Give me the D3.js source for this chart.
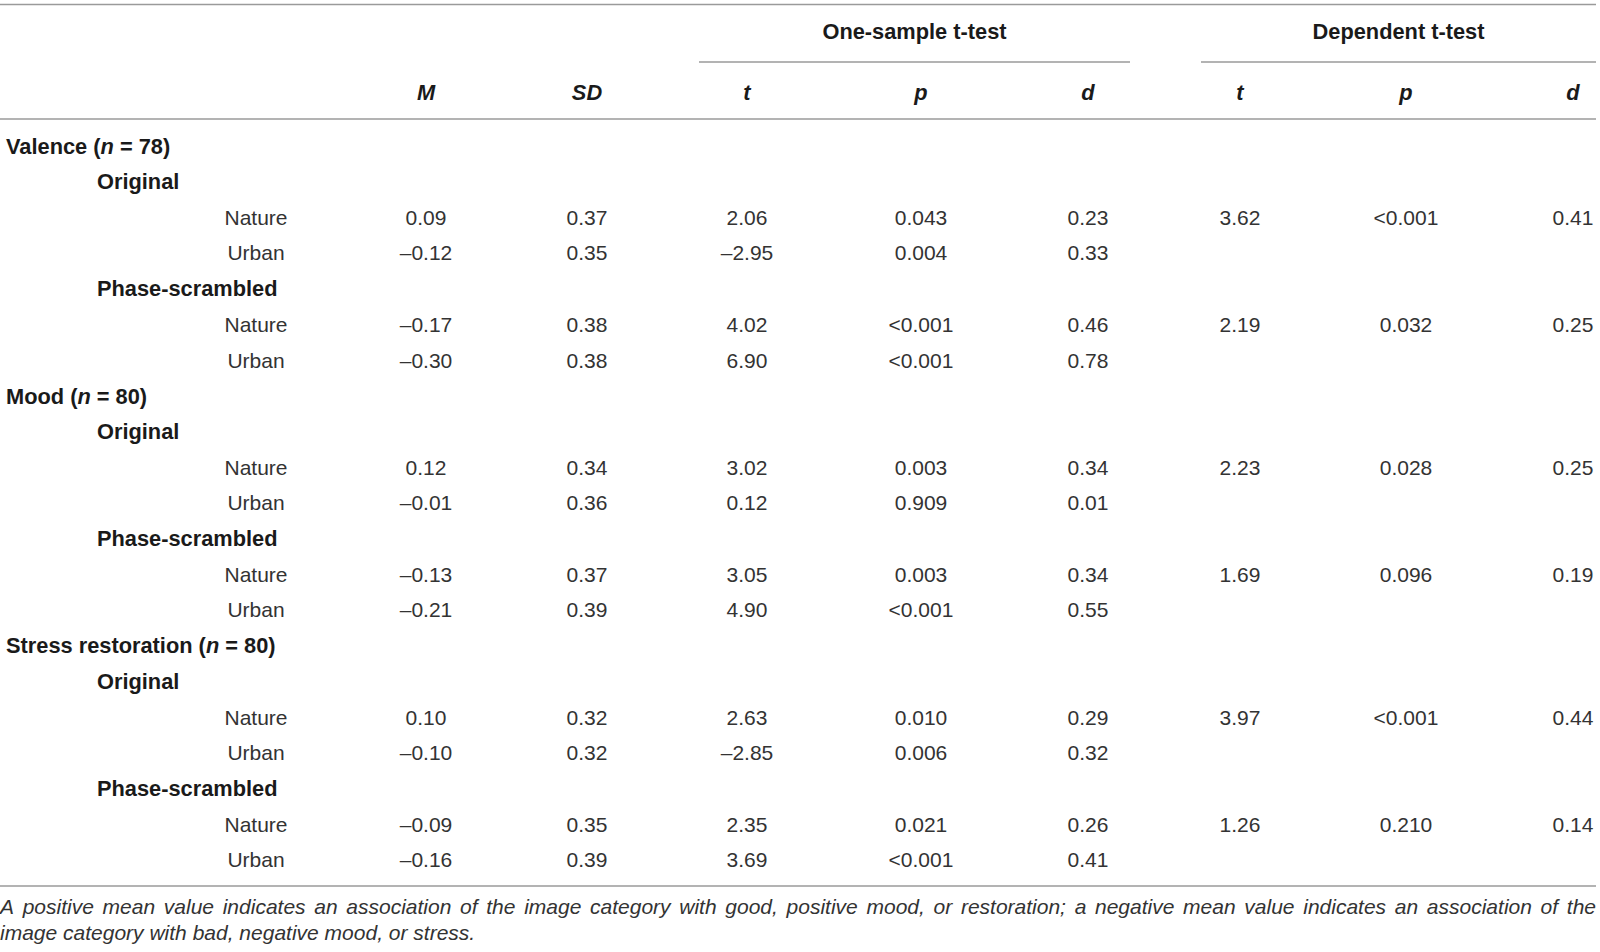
<!DOCTYPE html>
<html>
<head>
<meta charset="utf-8">
<script src="https://cdn.jsdelivr.net/npm/d3@7"></script>
<style>
  body { margin: 0; background: #fff; }
  svg { display: block; font-family: "Liberation Sans", Arial, Helvetica, sans-serif; }
</style>
</head>
<body>
<svg id="chart" width="1600" height="952"></svg>
<script>
// Table data
const measures = ["Valence", "Mood", "Stress restoration"];
const measureN = [78, 80, 80];
const imageTypes = ["Original", "Phase-scrambled"];
const categories = ["Nature", "Urban"];
const colKeys = ["M", "SD", "t1", "p1", "d1", "t2", "p2", "d2"];
const colHeads = ["M", "SD", "t", "p", "d", "t", "p", "d"];
const groupHeads = ["One-sample t-test", "Dependent t-test"];

const meanVals = [0.09, -0.12, -0.17, -0.30, 0.12, -0.01, -0.13, -0.21, 0.10, -0.10, -0.09, -0.16];
const sdVals = [0.37, 0.35, 0.38, 0.38, 0.34, 0.36, 0.37, 0.39, 0.32, 0.32, 0.35, 0.39];
const oneT = [2.06, -2.95, 4.02, 6.90, 3.02, 0.12, 3.05, 4.90, 2.63, -2.85, 2.35, 3.69];
const oneP = ["0.043", "0.004", "<0.001", "<0.001", "0.003", "0.909", "0.003", "<0.001", "0.010", "0.006", "0.021", "<0.001"];
const oneD = [0.23, 0.33, 0.46, 0.78, 0.34, 0.01, 0.34, 0.55, 0.29, 0.32, 0.26, 0.41];
const depT = [3.62, 2.19, 2.23, 1.69, 3.97, 1.26];
const depP = ["<0.001", "0.032", "0.028", "0.096", "<0.001", "0.210"];
const depD = [0.41, 0.25, 0.25, 0.19, 0.44, 0.14];

const footnoteLines = [
  "A positive mean value indicates an association of the image category with good, positive mood, or restoration; a negative mean value indicates an association of the",
  "image category with bad, negative mood, or stress."
];

const svg = d3.select("#chart");
const width = 1596;
const fmt = d3.formatLocale({ decimal: ".", thousands: ",", grouping: [3], currency: ["", ""], minus: "\u2013" }).format(".2f");

// column positions
const x = d3.scaleOrdinal().domain(colKeys).range([426, 587, 747, 921, 1088, 1240, 1406, 1573]);
// row positions (21 body rows)
const y = d3.scaleLinear().domain([0, 20]).range([146, 860]);

const ink = "#1a1a1a", soft = "#333", rule = "#9a9a9a";
const boldSize = 21.8;

// build row list
const rows = [];
let k = 0;
measures.forEach((m, mi) => {
  rows.push({ level: 0, label: m, n: measureN[mi] });
  imageTypes.forEach((it, ii) => {
    rows.push({ level: 1, label: it });
    categories.forEach((c, ci) => {
      const dep = mi * 2 + ii;
      rows.push({
        level: 2, label: c,
        vals: {
          M: fmt(meanVals[k]), SD: fmt(sdVals[k]), t1: fmt(oneT[k]), p1: oneP[k], d1: fmt(oneD[k]),
          t2: ci === 0 ? fmt(depT[dep]) : null,
          p2: ci === 0 ? depP[dep] : null,
          d2: ci === 0 ? fmt(depD[dep]) : null
        }
      });
      k++;
    });
  });
});

// rules
const hline = (x1, x2, yy) => svg.append("line")
  .attr("x1", x1).attr("x2", x2).attr("y1", yy).attr("y2", yy)
  .attr("stroke", rule).attr("stroke-width", 1.5);
hline(0, width, 4.5);
hline(x("t1") - 48, x("d1") + 42, 62);
hline(x("t2") - 39, width, 62);
hline(0, width, 119);
hline(0, width, 886);

// group headers
svg.append("g").selectAll("text")
  .data(groupHeads)
  .join("text")
  .attr("x", (d, i) => i === 0 ? (x("t1") - 48 + x("d1") + 42) / 2 : (x("t2") - 39 + width) / 2)
  .attr("y", 31).attr("dy", "0.35em")
  .attr("text-anchor", "middle")
  .attr("font-size", boldSize).attr("font-weight", "bold").attr("fill", ink)
  .text(d => d);

// column headers
svg.append("g").selectAll("text")
  .data(colKeys)
  .join("text")
  .attr("x", d => x(d)).attr("y", 92).attr("dy", "0.35em")
  .attr("text-anchor", "middle")
  .attr("font-size", boldSize).attr("font-weight", "bold").attr("font-style", "italic").attr("fill", ink)
  .text((d, i) => colHeads[i]);

// row labels
const labelG = svg.append("g");
rows.forEach((r, i) => {
  const t = labelG.append("text")
    .attr("y", y(i)).attr("dy", "0.35em")
    .attr("font-size", 21);
  if (r.level === 0) {
    t.attr("x", 6).attr("font-weight", "bold").attr("font-size", boldSize).attr("fill", ink);
    t.append("tspan").text(r.label + " (");
    t.append("tspan").attr("font-style", "italic").text("n");
    t.append("tspan").text(" = " + r.n + ")");
  } else if (r.level === 1) {
    t.attr("x", 97).attr("font-weight", "bold").attr("font-size", boldSize).attr("fill", ink).text(r.label);
  } else {
    t.attr("x", 256).attr("text-anchor", "middle").attr("fill", soft).text(r.label);
  }
});

// cells
const cells = [];
rows.forEach((r, i) => {
  if (!r.vals) return;
  colKeys.forEach(c => { if (r.vals[c] != null) cells.push({ row: i, col: c, v: r.vals[c] }); });
});
svg.append("g").selectAll("text")
  .data(cells)
  .join("text")
  .attr("x", d => x(d.col)).attr("y", d => y(d.row)).attr("dy", "0.35em")
  .attr("text-anchor", "middle")
  .attr("font-size", 21).attr("fill", soft)
  .text(d => d.v);

// footnote, first line justified to full width
const noteG = svg.append("g").attr("font-size", 21).attr("font-style", "italic").attr("fill", soft);
const measure = noteG.append("text").attr("visibility", "hidden");
measure.text("a b"); const withSp = measure.node().getComputedTextLength();
measure.text("ab"); const spaceW = withSp - measure.node().getComputedTextLength();

footnoteLines.forEach((line, li) => {
  const words = line.split(" ");
  const wordW = words.map(w => { measure.text(w); return measure.node().getComputedTextLength(); });
  const yy = 907 + li * 26;
  const last = li === footnoteLines.length - 1;
  const gap = last ? spaceW : (width - d3.sum(wordW)) / (words.length - 1);
  let xx = 0;
  words.forEach((w, i) => {
    noteG.append("text").attr("x", xx).attr("y", yy).attr("dy", "0.35em").text(w);
    xx += wordW[i] + gap;
  });
});
measure.remove();
</script>
</body>
</html>
